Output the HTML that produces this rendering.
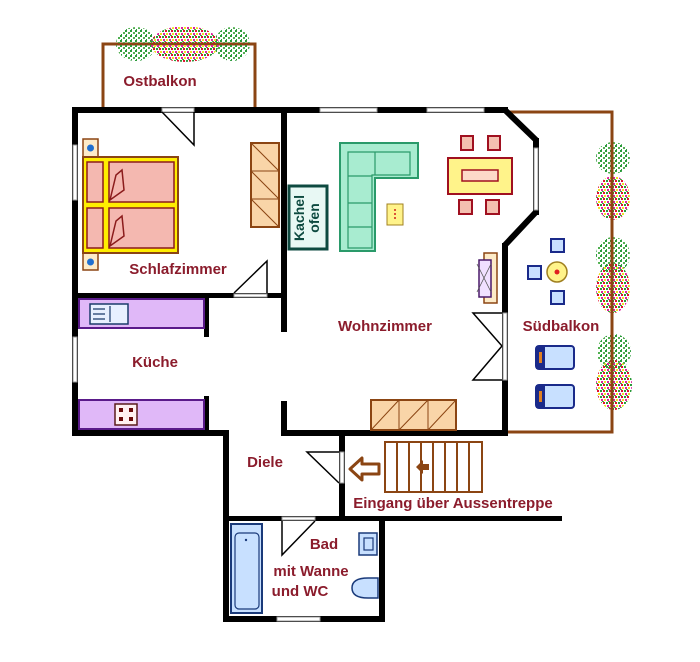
<!DOCTYPE html>
<html><head><meta charset="utf-8">
<style>
html,body{margin:0;padding:0;background:#fff;}
svg{display:block;}
text{font-family:"Liberation Sans",sans-serif;font-weight:bold;fill:#8b1c2c;font-size:15px;}
</style></head><body>
<svg width="700" height="662" viewBox="0 0 700 662" xmlns="http://www.w3.org/2000/svg">
<defs>
<pattern id="fl" width="6" height="6" patternUnits="userSpaceOnUse">
<rect x="0" y="0" width="2" height="2" fill="#2a9a3a"/><rect x="3" y="0" width="2" height="2" fill="#e01030"/>
<rect x="4" y="3" width="2" height="2" fill="#f0e020"/><rect x="1" y="3" width="2" height="2" fill="#e020a0"/>
<rect x="2" y="5" width="2" height="1" fill="#40b040"/>
</pattern>
<pattern id="gr" width="5" height="5" patternUnits="userSpaceOnUse">
<rect x="0" y="0" width="2" height="2" fill="#2a9a3a"/><rect x="3" y="2" width="2" height="2" fill="#50b050"/><rect x="1" y="4" width="1" height="1" fill="#2a9a3a"/>
</pattern>
</defs>

<!-- Ostbalkon -->
<path d="M103 108 V44 H255 V108" fill="none" stroke="#8b4513" stroke-width="3"/>
<ellipse cx="136" cy="44" rx="20" ry="17" fill="url(#gr)"/>
<ellipse cx="232" cy="44" rx="18" ry="17" fill="url(#gr)"/>
<ellipse cx="185" cy="44" rx="34" ry="18" fill="url(#fl)"/>
<line x1="115" y1="44" x2="250" y2="44" stroke="#8b4513" stroke-width="2"/>
<text x="160" y="86" text-anchor="middle">Ostbalkon</text>

<!-- Südbalkon -->
<path d="M507 112 H612 V432 H508" fill="none" stroke="#8b4513" stroke-width="3"/>
<ellipse cx="613" cy="158" rx="17" ry="16" fill="url(#gr)"/>
<ellipse cx="613" cy="198" rx="17" ry="22" fill="url(#fl)"/>
<ellipse cx="613" cy="255" rx="17" ry="18" fill="url(#gr)"/>
<ellipse cx="613" cy="288" rx="17" ry="25" fill="url(#fl)"/>
<ellipse cx="614" cy="352" rx="17" ry="18" fill="url(#gr)"/>
<ellipse cx="614" cy="385" rx="18" ry="25" fill="url(#fl)"/>
<line x1="612" y1="140" x2="612" y2="415" stroke="#8b4513" stroke-width="3"/>

<!-- walls -->
<g fill="#000">
<rect x="72" y="107" width="436" height="6"/>
<rect x="72" y="107" width="6" height="329"/>
<rect x="72" y="430" width="156" height="6"/>
<rect x="223" y="430" width="6" height="192"/>
<rect x="223" y="616" width="162" height="6"/>
<rect x="379" y="517" width="6" height="105"/>
<rect x="223" y="516" width="339" height="5"/>
<rect x="339" y="430" width="6" height="90"/>
<rect x="281" y="430" width="227" height="6"/>
<rect x="281" y="107" width="6" height="225"/>
<rect x="281" y="401" width="6" height="35"/>
<rect x="72" y="293" width="215" height="5"/>
<rect x="204" y="293" width="5" height="44"/>
<rect x="204" y="396" width="5" height="40"/>
<rect x="502" y="243" width="6" height="193"/>
<rect x="533" y="138" width="6" height="77"/>
</g>
<path d="M505 110 L536 140 M536 212 L505 245" stroke="#000" stroke-width="6" fill="none"/>

<!-- windows / door gaps -->
<g fill="#fff" stroke="#999" stroke-width="1">
<rect x="162" y="108" width="32" height="4"/>
<rect x="320" y="108" width="57" height="4"/>
<rect x="427" y="108" width="57" height="4"/>
<rect x="73" y="145" width="4" height="55"/>
<rect x="73" y="337" width="4" height="45"/>
<rect x="534" y="148" width="4" height="62"/>
<rect x="503" y="313" width="4" height="67"/>
<rect x="234" y="294" width="33" height="3"/>
<rect x="340" y="452" width="4" height="31"/>
<rect x="282" y="517" width="33" height="3"/>
<rect x="277" y="617" width="43" height="4"/>
</g>
<!-- door swings -->
<g stroke="#000" stroke-width="1.5" fill="none">
<path d="M162 112 L194 145 V112"/>
<path d="M234 293 L267 261 V293"/>
<path d="M502 313 H473 L502 346 L473 380 H502"/>
<path d="M339 452 H307 L339 483"/>
<path d="M282 521 V555 L315 521"/>
</g>

<!-- bedroom -->
<rect x="83" y="139" width="15" height="18" fill="#fdebc8" stroke="#8b4513" stroke-width="1.5"/>
<circle cx="90.5" cy="148" r="3.5" fill="#2070d0"/>
<rect x="83" y="253" width="15" height="17" fill="#fdebc8" stroke="#8b4513" stroke-width="1.5"/>
<circle cx="90.5" cy="262" r="3.5" fill="#2070d0"/>
<rect x="83" y="157" width="95" height="96" fill="#ffee00" stroke="#8b4513" stroke-width="2"/>
<g fill="#f4b8b0" stroke="#8b1c1c" stroke-width="1.5">
<rect x="87" y="162" width="16" height="40"/><rect x="87" y="208" width="16" height="40"/>
<rect x="109" y="162" width="65" height="40"/><rect x="109" y="208" width="65" height="40"/>
<path d="M110 200 L116 175 L122 170 L124 190 Z"/><path d="M110 246 L116 221 L122 216 L124 236 Z"/>
</g>
<rect x="251" y="143" width="28" height="84" fill="#f9d5a8" stroke="#8b4513" stroke-width="2"/>
<path d="M251 171 H279 M251 199 H279 M251 143 L279 171 M251 171 L279 199 M251 199 L279 227" stroke="#8b4513" stroke-width="1"/>
<text x="178" y="274" text-anchor="middle">Schlafzimmer</text>

<!-- Kachelofen -->
<rect x="289" y="186" width="38" height="63" fill="#e8f8f4" stroke="#0e4a40" stroke-width="3"/>
<text transform="translate(304,218) rotate(-90)" text-anchor="middle" style="fill:#0e4a40;font-size:14px">Kachel</text>
<text transform="translate(319,218) rotate(-90)" text-anchor="middle" style="fill:#0e4a40;font-size:14px">ofen</text>

<!-- kitchen -->
<rect x="79" y="299" width="125" height="29" fill="#e0b8f8" stroke="#5a1a8a" stroke-width="2"/>
<rect x="90" y="304" width="38" height="20" fill="#e8f0ff" stroke="#1a3a6a" stroke-width="1.5"/>
<path d="M93 309 H105 M93 314 H105 M93 319 H105 M110 306 V322" stroke="#1a3a6a" stroke-width="1.2"/>
<rect x="79" y="400" width="125" height="29" fill="#e0b8f8" stroke="#5a1a8a" stroke-width="2"/>
<rect x="115" y="404" width="22" height="21" fill="#fff0f0" stroke="#5a1a1a" stroke-width="1.5"/>
<g fill="#6a0a0a"><rect x="119" y="408" width="4" height="4"/><rect x="129" y="408" width="4" height="4"/><rect x="119" y="417" width="4" height="4"/><rect x="129" y="417" width="4" height="4"/></g>
<text x="155" y="367" text-anchor="middle">Küche</text>

<!-- living room -->
<path d="M340 143 H418 V178 H375 V251 H340 Z" fill="#a8ecd0" stroke="#2a9a6a" stroke-width="2"/>
<path d="M348 152 H410 V175 H372 V248 H348 Z M348 176 H372 M348 203 H372 M348 227 H372 M375 152 V175" fill="none" stroke="#2a9a6a" stroke-width="1.2"/>
<rect x="387" y="204" width="16" height="21" fill="#fff38a" stroke="#a08020" stroke-width="1"/>
<circle cx="395" cy="210" r="1" fill="#d02020"/><circle cx="395" cy="214" r="1" fill="#d02020"/><circle cx="395" cy="218" r="1" fill="#d02020"/>
<g fill="#f4c0b0" stroke="#a01020" stroke-width="2">
<rect x="461" y="136" width="12" height="14"/><rect x="488" y="136" width="12" height="14"/>
<rect x="459" y="200" width="13" height="14"/><rect x="486" y="200" width="13" height="14"/>
</g>
<rect x="448" y="158" width="64" height="36" fill="#fff38a" stroke="#a01020" stroke-width="2"/>
<rect x="462" y="170" width="36" height="11" fill="#fdd8c8" stroke="#a01020" stroke-width="1.5"/>
<rect x="484" y="253" width="13" height="50" fill="#fdebc8" stroke="#8b4513" stroke-width="1.5"/>
<rect x="479" y="260" width="12" height="37" fill="#f0e0ff" stroke="#4a1a6a" stroke-width="1.5"/>
<path d="M477 264 L491 292 M477 292 L491 264" stroke="#555" stroke-width="0.8"/>
<rect x="371" y="400" width="85" height="30" fill="#f9d5a8" stroke="#8b4513" stroke-width="2"/>
<path d="M399 400 V430 M428 400 V430 M371 430 L399 400 M399 430 L428 400 M428 430 L456 400" stroke="#8b4513" stroke-width="1"/>
<text x="385" y="331" text-anchor="middle">Wohnzimmer</text>

<!-- balcony furniture -->
<circle cx="557" cy="272" r="10" fill="#fff38a" stroke="#a08020" stroke-width="1.5"/>
<circle cx="557" cy="272" r="2.5" fill="#e02020"/>
<g fill="#c8e0ff" stroke="#1a2a8a" stroke-width="2">
<rect x="551" y="239" width="13" height="13"/><rect x="551" y="291" width="13" height="13"/>
<rect x="528" y="266" width="13" height="13"/>
<rect x="536" y="346" width="38" height="23" rx="3"/><rect x="536" y="385" width="38" height="23" rx="3"/>
</g>
<rect x="536" y="346" width="9" height="23" fill="#1a2a8a"/><rect x="536" y="385" width="9" height="23" fill="#1a2a8a"/>
<rect x="539" y="352" width="3" height="11" fill="#e08020"/><rect x="539" y="391" width="3" height="11" fill="#e08020"/>
<text x="561" y="331" text-anchor="middle">Südbalkon</text>

<!-- stairs -->
<rect x="385" y="442" width="97" height="50" fill="#fff" stroke="#8b4513" stroke-width="2"/>
<g stroke="#8b4513" stroke-width="2">
<line x1="397" y1="442" x2="397" y2="492"/><line x1="409" y1="442" x2="409" y2="492"/>
<line x1="421" y1="442" x2="421" y2="492"/><line x1="433" y1="442" x2="433" y2="492"/>
<line x1="445" y1="442" x2="445" y2="492"/><line x1="457" y1="442" x2="457" y2="492"/>
<line x1="469" y1="442" x2="469" y2="492"/>
</g>
<path d="M416 467 L423 460 V464 H429 V470 H423 V474 Z" fill="#8b4513"/>
<path d="M350 469 L362 458 V464 H379 V474 H362 V480 Z" fill="#fff" stroke="#8b4513" stroke-width="3" stroke-linejoin="round"/>
<text x="453" y="508" text-anchor="middle">Eingang über Aussentreppe</text>
<text x="265" y="467" text-anchor="middle">Diele</text>

<!-- bath -->
<rect x="231" y="524" width="31" height="89" fill="#c8e0ff" stroke="#1a3a7a" stroke-width="2"/>
<rect x="235" y="533" width="24" height="76" rx="4" fill="#c8e0ff" stroke="#1a3a7a" stroke-width="1.2"/>
<circle cx="246" cy="540" r="1.2" fill="#1a3a7a"/>
<rect x="359" y="533" width="18" height="22" fill="#c8e0ff" stroke="#1a3a7a" stroke-width="1.5"/>
<rect x="364" y="538" width="9" height="12" fill="none" stroke="#1a3a7a" stroke-width="1.2"/>
<path d="M378 578 H368 Q352 578 352 588 Q352 598 368 598 H378 Z" fill="#c8e0ff" stroke="#1a3a7a" stroke-width="1.5"/>
<text x="324" y="549" text-anchor="middle">Bad</text>
<text x="311" y="576" text-anchor="middle">mit Wanne</text>
<text x="300" y="596" text-anchor="middle">und WC</text>
</svg>
</body></html>
